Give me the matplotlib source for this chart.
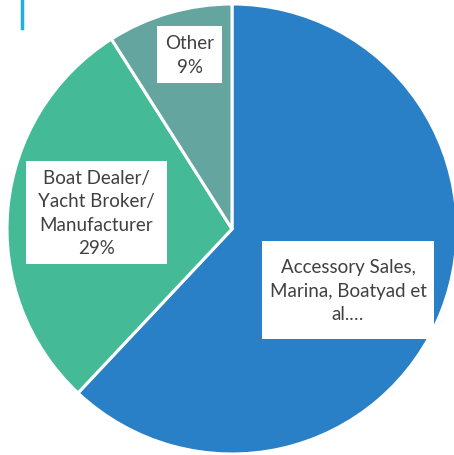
import matplotlib
matplotlib.use("Agg")
import matplotlib.pyplot as plt
from matplotlib.lines import Line2D
from matplotlib.patches import Rectangle

# business mix by segment
segments = ["Accessory Sales,\nMarina, Boatyad et\nal.…", "Boat Dealer/\nYacht Broker/\nManufacturer\n29%", "Other\n9%"]
shares = [62, 29, 9]
colors = ["#2980C7", "#44BA96", "#64A69F"]

plt.rcParams["font.family"] = ["Lato", "DejaVu Sans"]

W, H = 454, 456
fig = plt.figure(figsize=(W / 100, H / 100), dpi=100)
ax = fig.add_axes([0, 0, 1, 1])

wedges, _ = ax.pie(shares, colors=colors, startangle=90, counterclock=False,
                   radius=1.0, wedgeprops=dict(edgecolor="white", linewidth=2.2))
ax.set_aspect("auto")
ax.set_xlim(-232 / 225, 222 / 225)
ax.set_ylim(-226 / 225, 230 / 225)
ax.axis("off")

# label boxes in pixels from top-left: (left, top, right, bottom)
boxes = [(262, 242, 434, 340), (26, 162, 167, 265), (157, 27, 222, 84)]
for text, (l, t, r, b) in zip(segments, boxes):
    fig.add_artist(Rectangle((l / W, 1 - b / H), (r - l) / W, (b - t) / H,
                             transform=fig.transFigure, fc="white", ec="none"))
    fig.text((l + r) / 2 / W, 1 - (t + b) / 2 / H, text, ha="center", va="center",
             fontsize=13.5, color="#404040", linespacing=1.45)

fig.add_artist(Line2D([22 / W, 22 / W], [1, 1 - 29 / H], color="#1FAEE6",
                      linewidth=2.5, transform=fig.transFigure))

fig.savefig("out.png", dpi=100)
